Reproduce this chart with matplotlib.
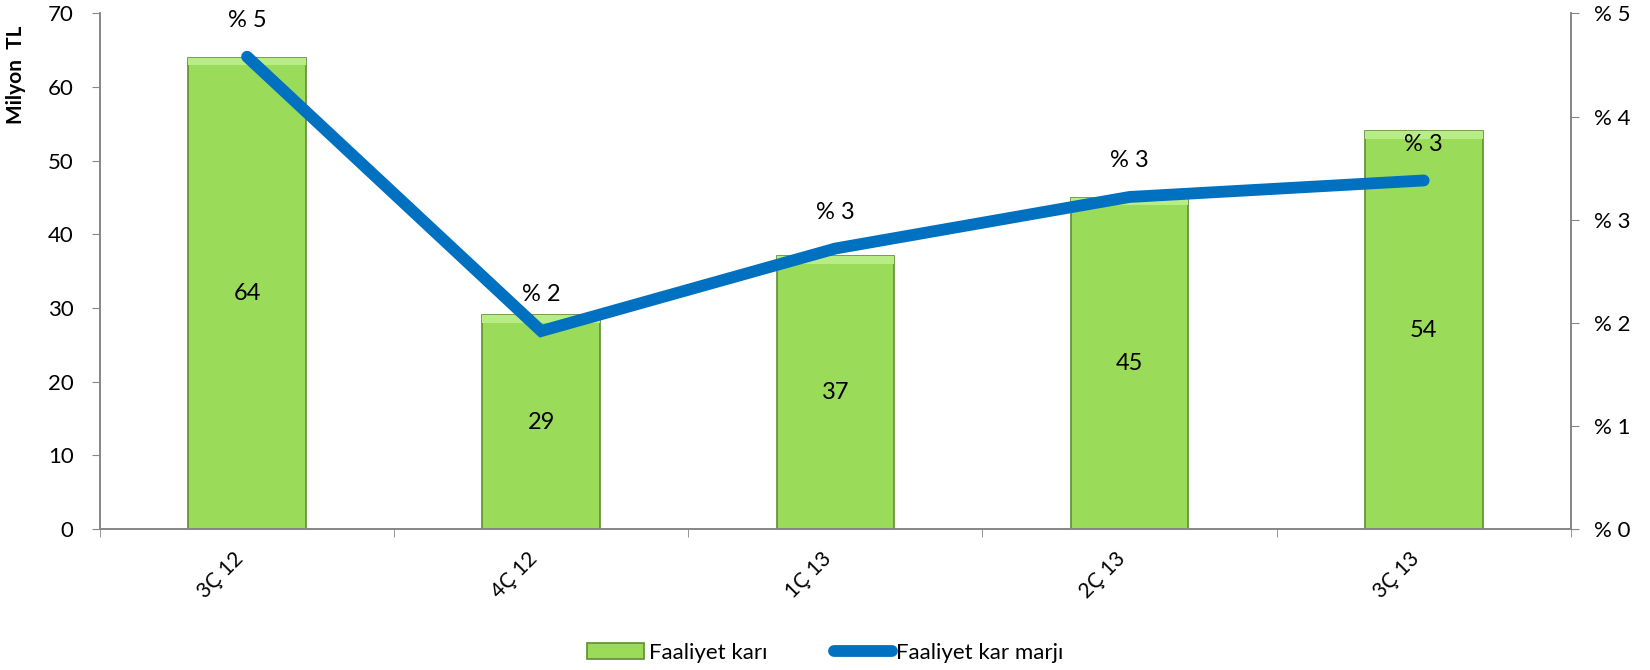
import matplotlib.pyplot as plt
import numpy as np

plt.rcParams['font.family'] = ['Lato', 'DejaVu Sans']

# veriler
ceyrekler = ["3Ç 12", "4Ç 12", "1Ç 13", "2Ç 13", "3Ç 13"]
faaliyet_kari = [64, 29, 37, 45, 54]          # Milyon TL
kar_marji = [4.58, 1.92, 2.72, 3.22, 3.38]    # %
marji_etiket = ["% 5", "% 2", "% 3", "% 3", "% 3"]

gri = '#868686'
yesil = '#9BDB5A'
mavi = '#0070C0'

fig = plt.figure(figsize=(16.5, 6.7), dpi=100)
ax = fig.add_axes([0.0606, 0.2104, 0.952 - 0.0606, 0.980 - 0.2104])
ax2 = ax.twinx()

x = np.arange(len(ceyrekler))

# barras com leve efeito de relevo
ax.bar(x, faaliyet_kari, width=0.40, color=yesil, edgecolor='#5F8E2C',
       linewidth=1.2, zorder=2, label='Faaliyet karı')
ax.bar(x, [1.0] * len(x), bottom=np.array(faaliyet_kari) - 1.0, width=0.40,
       color='#B8EC84', linewidth=0, zorder=3)

for xi, v in zip(x, faaliyet_kari):
    ax.text(xi, v / 2, str(v), ha='center', va='center', fontsize=17, zorder=4)

ax.set_xlim(-0.5, len(x) - 0.5)
ax.set_ylim(0, 70)
ax.set_yticks(range(0, 71, 10))
ax.set_xticks(x)
ax.set_xticklabels(ceyrekler, rotation=45, ha='right', fontsize=15)
ax.set_xticks(np.arange(-0.5, len(x), 1), minor=True)
ax.tick_params(axis='x', which='major', length=0, pad=14)
ax.tick_params(axis='x', which='minor', length=6, color=gri, direction='out')
ax.tick_params(axis='y', length=6, color=gri, labelsize=16, pad=13)
ax.set_ylabel('Milyon  TL', fontsize=15, fontweight='bold')
ax.yaxis.set_label_coords(-0.050, 0.88)

# linha da margem
ax2.plot(x, kar_marji, color=mavi, linewidth=8.5, solid_capstyle='round',
         solid_joinstyle='miter', zorder=5, label='Faaliyet kar marjı')
for xi, v, t in zip(x, kar_marji, marji_etiket):
    ax2.annotate(t, (xi, v), xytext=(0, 26), textcoords='offset points',
                 ha='center', va='center', fontsize=17, zorder=6)
ax2.set_ylim(0, 5)
ax2.set_yticks(range(0, 6))
ax2.set_yticklabels(['% ' + str(i) for i in range(0, 6)])
ax2.tick_params(axis='y', length=6, color=gri, labelsize=16, pad=11)

ax2.set_zorder(ax.get_zorder() + 1)
ax2.patch.set_visible(False)

for a in (ax, ax2):
    a.spines['top'].set_visible(False)
    for s in ('left', 'right', 'bottom'):
        a.spines[s].set_color(gri)
        a.spines[s].set_linewidth(1.2)

h1, l1 = ax.get_legend_handles_labels()
h2, l2 = ax2.get_legend_handles_labels()
fig.legend(h1 + h2, l1 + l2, loc='center', bbox_to_anchor=(0.5, 0.026), ncol=2,
           frameon=False, fontsize=16, handlelength=2.6, handletextpad=0.2,
           columnspacing=3.0)

plt.savefig('out.png', dpi=100)
